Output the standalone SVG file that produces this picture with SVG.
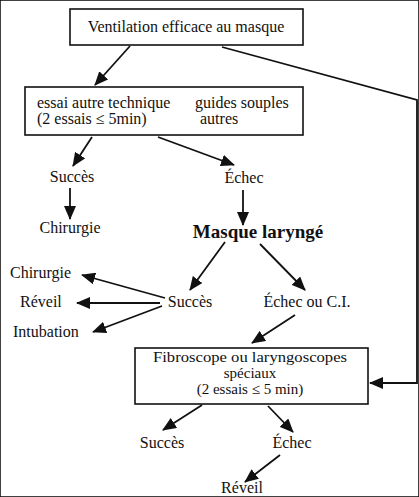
<svg xmlns="http://www.w3.org/2000/svg" width="419" height="497" viewBox="0 0 419 497">
<defs>
<marker id="ah" viewBox="0 0 14 12" refX="13" refY="6" markerWidth="14" markerHeight="12" markerUnits="userSpaceOnUse" orient="auto">
<path d="M0,0 L14,6 L0,12 Z" fill="#111"/>
</marker>
</defs>
<style>
text{font-family:"Liberation Serif","Times New Roman",serif;font-size:16px;fill:#111}
.c{text-anchor:middle}
.b{font-weight:bold;font-size:19px}
.s{font-size:15px}
rect{fill:#fff;stroke:#111;stroke-width:1.6}
.con line,.con polyline{stroke:#111;stroke-width:1.8;fill:none}
.con .a{marker-end:url(#ah)}
</style>
<rect width="419" height="497" fill="#fff" stroke="none"/>
<g class="con">
<line class="a" x1="130" y1="46" x2="95" y2="85"/>
<polyline class="a" points="222,47 417,100 417,383 370,383"/>
<line class="a" x1="92" y1="137" x2="73" y2="166"/>
<line class="a" x1="158" y1="137" x2="234" y2="165"/>
<line class="a" x1="70" y1="188" x2="70" y2="219"/>
<line class="a" x1="243" y1="190" x2="243" y2="225"/>
<line class="a" x1="225" y1="242" x2="190" y2="290"/>
<line class="a" x1="260" y1="244" x2="305" y2="290"/>
<line class="a" x1="165" y1="298" x2="82" y2="275"/>
<line class="a" x1="160" y1="303" x2="77" y2="303"/>
<line class="a" x1="162" y1="306" x2="93" y2="332"/>
<line class="a" x1="295" y1="315" x2="252" y2="343"/>
<line class="a" x1="202" y1="405" x2="163" y2="430"/>
<line class="a" x1="268" y1="406" x2="293" y2="432"/>
<line class="a" x1="280" y1="455" x2="245" y2="482"/>
</g>
<g id="n-ventilation">
<rect x="70" y="9" width="233" height="36"/>
<text class="c" x="186" y="32">Ventilation efficace au masque</text>
</g>
<g id="n-essai">
<rect x="25" y="87" width="278" height="48"/>
<text x="37" y="108">essai autre technique</text>
<text x="37" y="124">(2 essais ≤ 5min)</text>
<text x="195" y="108">guides souples</text>
<text x="200" y="124">autres</text>
</g>
<g id="n-succes1"><text class="c" x="72" y="182">Succès</text></g>
<g id="n-echec1"><text class="c" x="244" y="183">Échec</text></g>
<g id="n-chirurgie1"><text class="c" x="70" y="233">Chirurgie</text></g>
<g id="n-masque"><text class="c b" x="258" y="238">Masque laryngé</text></g>
<g id="n-succes2"><text class="c" x="190" y="307">Succès</text></g>
<g id="n-echec2"><text class="c" x="307" y="307">Échec ou C.I.</text></g>
<g id="n-chirurgie2"><text x="10" y="278">Chirurgie</text></g>
<g id="n-reveil1"><text x="20" y="307">Réveil</text></g>
<g id="n-intubation"><text x="13" y="337">Intubation</text></g>
<g id="n-fibroscope">
<rect x="135" y="348" width="233" height="56"/>
<text class="c s" x="250" y="362" textLength="194" lengthAdjust="spacingAndGlyphs">Fibroscope ou laryngoscopes</text>
<text class="c s" x="250" y="378">spéciaux</text>
<text class="c s" x="250" y="394">(2 essais ≤ 5 min)</text>
</g>
<g id="n-succes3"><text class="c" x="162" y="448">Succès</text></g>
<g id="n-echec3"><text class="c" x="292" y="448">Échec</text></g>
<g id="n-reveil2"><text class="c" x="242" y="493">Réveil</text></g>
</svg>
